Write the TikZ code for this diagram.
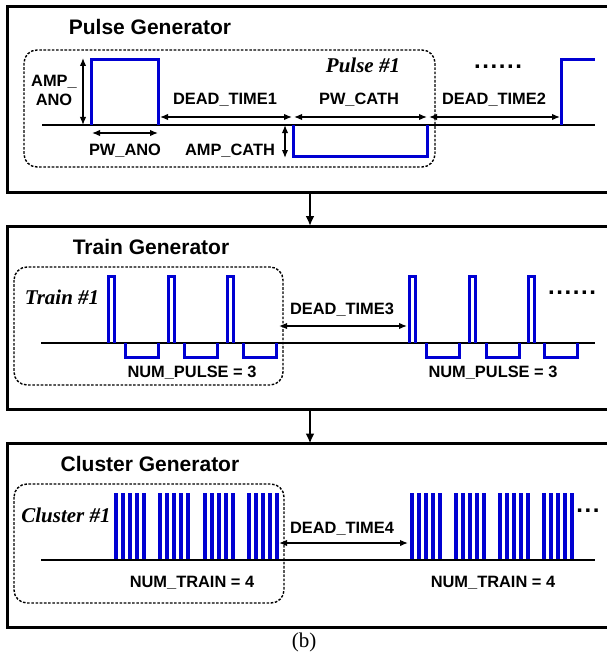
\documentclass[tikz,border=0pt]{standalone}
\usepackage{fontspec}
\setmainfont{Liberation Serif}
\setsansfont{Liberation Sans}
\usetikzlibrary{arrows.meta}
\definecolor{pulseblue}{RGB}{0,0,210}

\begin{document}
\begin{tikzpicture}[x=1pt,y=-1pt,
  panel/.style={line width=3pt},
  grp/.style={line width=1.4pt, dash pattern=on 2.6pt off 1.6pt, rounded corners=13pt},
  axis/.style={line width=1.3pt},
  wave/.style={pulseblue, line width=3pt},
  bar/.style={pulseblue, line width=3.6pt},
  dim/.style={line width=1.4pt, {Latex[length=8pt,width=6.5pt]}-{Latex[length=8pt,width=6.5pt]}},
  flow/.style={line width=2.6pt, -{Latex[length=10pt,width=9pt]}},
  lbl/.style={font=\sffamily\bfseries\fontsize{16.4}{18}\selectfont, inner sep=0pt, anchor=base},
  title/.style={font=\sffamily\bfseries\fontsize{21}{24}\selectfont, inner sep=0pt, anchor=base},
  tag/.style={font=\rmfamily\bfseries\itshape\fontsize{21}{24}\selectfont, inner sep=0pt, anchor=base},
  more/.style={font=\sffamily\bfseries\fontsize{24}{26}\selectfont, inner sep=0pt, anchor=base},
  caption/.style={font=\rmfamily\fontsize{21}{24}\selectfont, inner sep=0pt, anchor=base},
]
\useasboundingbox (0,0) rectangle (607,658);

% ---------- the three generator panels (open on the right) ----------
\draw[panel] (607,7) -- (7,7) -- (7,192) -- (607,192);
\draw[panel] (607,226) -- (7,226) -- (7,409) -- (607,409);
\draw[panel] (607,443.5) -- (7,443.5) -- (7,627) -- (607,627);

\coordinate (pulseOut) at (310,192);
\coordinate (trainIn) at (310,226);
\coordinate (trainOut) at (310,409);
\coordinate (clusterIn) at (310,443.5);
\draw[flow] (pulseOut) -- (trainIn);
\draw[flow] (trainOut) -- (clusterIn);

% ---------- pulse generator ----------
\node[title] (pgen) at (150,35) {Pulse Generator};
\draw[grp] (24,50) rectangle (435,167);
\draw[axis] (42,125) -- (595,125);
\draw[wave] (91,125) |- (158,59.5) -- (158,125);
\draw[wave] (293,125) |- (427,156) -- (427,125);
\draw[wave] (561,125) |- (595,59.5);

\draw[dim] (83,58) -- (83,125);
\draw[dim] (92,133) -- (158,133);
\draw[dim] (160,117) -- (292,117);
\draw[dim] (294,117) -- (427,117);
\draw[dim] (429,117) -- (560,117);
\draw[dim] (285,125) -- (285,158);

\node[lbl] (ampA) at (54,87) {AMP\_};
\node[lbl] (ampB) at (54,106) {ANO};
\node[lbl] (pwano) at (125,155) {PW\_ANO};
\node[lbl] (ampcath) at (230,155) {AMP\_CATH};
\node[lbl] (dt1) at (225,105) {DEAD\_TIME1};
\node[lbl] (pwcath) at (359,105) {PW\_CATH};
\node[lbl] (dt2) at (494,105) {DEAD\_TIME2};
\node[tag] (pulse1) at (363,73) {Pulse \#1};
\node[more] (pdots) at (498,68.5) {.\kern1.6pt.\kern1.6pt.\kern1.6pt.\kern1.6pt.\kern1.6pt.};

% ---------- train generator ----------
\node[title] (tgen) at (151,254) {Train Generator};
\draw[grp] (14,267) rectangle (283,385);
\draw[axis] (41,343) -- (595,343);
\foreach \a in {107,167,226,408,468,527}
  \draw[wave] (\a+1.5,343) |- (\a+7.1,276.5) -- (\a+7.1,343);
\foreach \c in {124,183,242,425,485,543}
  \draw[wave] (\c+1.5,343) |- (\c+34.5,357.5) -- (\c+34.5,343);
\draw[dim] (279,326) -- (407,326);
\node[tag] (train1) at (62,304) {Train \#1};
\node[lbl] (dt3) at (342,314) {DEAD\_TIME3};
\node[lbl] (np1) at (192,377) {NUM\_PULSE = 3};
\node[lbl] (np2) at (493,377) {NUM\_PULSE = 3};
\node[more] (tdots) at (572,294.5) {.\kern1.6pt.\kern1.6pt.\kern1.6pt.\kern1.6pt.\kern1.6pt.};

% ---------- cluster generator ----------
\node[title] (cgen) at (150,471) {Cluster Generator};
\draw[grp] (14,484) rectangle (284,603);
\foreach \g in {114,158,203,247,410,454,498,542}
  \foreach \k in {0,...,4}
    \draw[bar] (\g+1.8+\k*7,493) -- (\g+1.8+\k*7,560);
\draw[axis] (41,560) -- (595,560);
\draw[dim] (279,543) -- (408,543);
\node[tag] (cl1) at (66,522) {Cluster \#1};
\node[lbl] (dt4) at (342,533) {DEAD\_TIME4};
\node[lbl] (nt1) at (192,587) {NUM\_TRAIN = 4};
\node[lbl] (nt2) at (493,587) {NUM\_TRAIN = 4};
\node[more] (cdots) at (588,512.5) {.\kern1.6pt.\kern1.6pt.};

\node[caption] (figb) at (304,647) {(b)};
\end{tikzpicture}
\end{document}
